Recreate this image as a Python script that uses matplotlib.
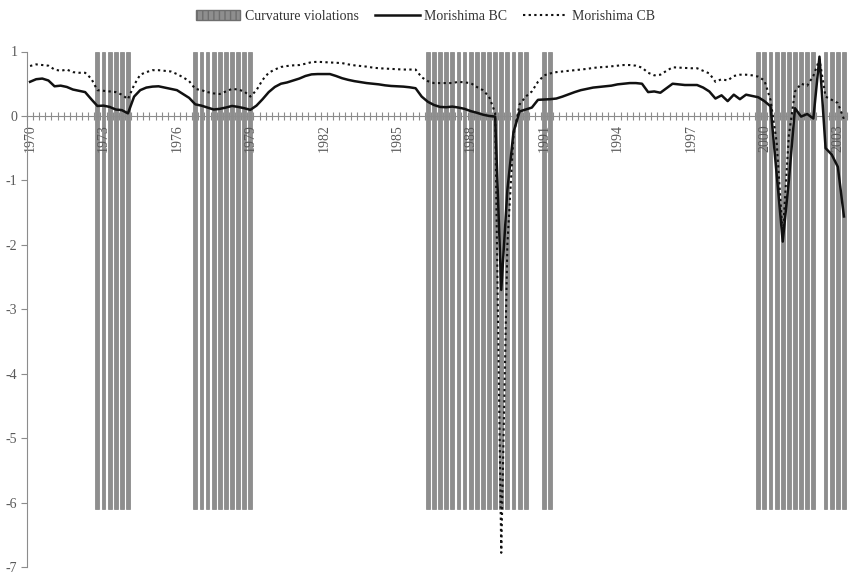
import numpy as np
import matplotlib
matplotlib.use("Agg")
import matplotlib.pyplot as plt
from matplotlib.patches import Patch
from matplotlib.lines import Line2D

plt.rcParams['font.family'] = ['Liberation Serif', 'DejaVu Serif']
plt.rcParams['axes.unicode_minus'] = False

# quarterly values, 1970Q1 .. 2003Q2
morishima_bc = [
    0.53, 0.57, 0.58, 0.55, 0.46, 0.47, 0.45, 0.41, 0.39, 0.37,
    0.26, 0.155, 0.16, 0.14, 0.10, 0.09, 0.04, 0.30, 0.40, 0.44,
    0.455, 0.46, 0.44, 0.42, 0.40, 0.34, 0.28, 0.18, 0.16, 0.13,
    0.10, 0.11, 0.13, 0.155, 0.14, 0.12, 0.095, 0.16, 0.26, 0.37,
    0.45, 0.50, 0.52, 0.55, 0.58, 0.62, 0.645, 0.65, 0.65, 0.65,
    0.62, 0.585, 0.56, 0.54, 0.525, 0.51, 0.50, 0.49, 0.475, 0.465,
    0.46, 0.455, 0.445, 0.43, 0.30, 0.22, 0.17, 0.14, 0.135, 0.145,
    0.13, 0.11, 0.075, 0.05, 0.02, 0.0, -0.01, -2.7, -1.15, -0.25,
    0.07, 0.10, 0.13, 0.25, 0.255, 0.26, 0.27, 0.30, 0.335, 0.37,
    0.40, 0.42, 0.44, 0.45, 0.46, 0.47, 0.49, 0.50, 0.51, 0.51,
    0.50, 0.37, 0.38, 0.36, 0.43, 0.50, 0.49, 0.48, 0.48, 0.48,
    0.44, 0.38, 0.27, 0.32, 0.23, 0.33, 0.26, 0.33, 0.31, 0.29,
    0.23, 0.15, -0.9, -1.95, -1.0, 0.12, -0.01, 0.03, -0.04, 0.92,
    -0.5, -0.6, -0.79, -1.56,
]

morishima_cb = [
    0.775, 0.80, 0.79, 0.78, 0.72, 0.70, 0.72, 0.68, 0.67, 0.67,
    0.58, 0.40, 0.39, 0.38, 0.37, 0.33, 0.26, 0.48, 0.64, 0.68,
    0.71, 0.71, 0.70, 0.69, 0.65, 0.60, 0.54, 0.42, 0.40, 0.37,
    0.35, 0.34, 0.38, 0.42, 0.41, 0.38, 0.30, 0.40, 0.56, 0.67,
    0.72, 0.76, 0.775, 0.785, 0.79, 0.81, 0.835, 0.84, 0.835, 0.83,
    0.825, 0.82, 0.80, 0.785, 0.775, 0.765, 0.75, 0.74, 0.735, 0.73,
    0.725, 0.72, 0.72, 0.72, 0.60, 0.54, 0.51, 0.51, 0.51, 0.51,
    0.53, 0.52, 0.51, 0.45, 0.40, 0.30, 0.05, -6.78, -2.0, -0.3,
    0.18, 0.30, 0.38, 0.53, 0.63, 0.66, 0.68, 0.69, 0.70, 0.71,
    0.72, 0.73, 0.745, 0.755, 0.76, 0.77, 0.78, 0.79, 0.79, 0.78,
    0.75, 0.67, 0.63, 0.64, 0.70, 0.755, 0.75, 0.745, 0.74, 0.74,
    0.70, 0.66, 0.53, 0.57, 0.55, 0.62, 0.64, 0.64, 0.63, 0.61,
    0.55, 0.25, -0.4, -1.85, -0.3, 0.38, 0.50, 0.47, 0.62, 0.88,
    0.30, 0.25, 0.20, -0.05,
]

# quarters (index from 1970Q1) with curvature violations: (first, last)
violation_spans = [(11, 16), (27, 36), (65, 81), (84, 85), (119, 128), (130, 133)]
violation_top = 1.0
violation_bottom = -6.1

year_labels = ['1970', '1973', '1976', '1979', '1982', '1985',
               '1988', '1991', '1994', '1997', '2000', '2003']

grey = '#595959'
n = len(morishima_bc)
q = np.arange(n)

fig = plt.figure(figsize=(8.51, 5.78), dpi=100)
ax = fig.add_axes([27 / 851, 11 / 578, 820 / 851, 515.5 / 578])

viol = [i for a, b in violation_spans for i in range(a, b + 1)]
ax.bar(viol, violation_top - violation_bottom, bottom=violation_bottom,
       width=0.62, color='#8e8e8e', edgecolor='#6e6e6e', linewidth=0.4, zorder=1)

ax.plot(q, morishima_cb, color='#111111', lw=1.5, linestyle=(0, (1.1, 1.6)), zorder=3)
ax.plot(q, morishima_bc, color='#111111', lw=1.8, zorder=4)

ax.set_xlim(-0.5, n - 0.5)
ax.set_ylim(-7, 1)

ax.spines['top'].set_visible(False)
ax.spines['right'].set_visible(False)
ax.spines['bottom'].set_position(('data', 0))
ax.spines['bottom'].set_color('#8c8c8c')
ax.spines['left'].set_color('#8c8c8c')
ax.spines['bottom'].set_zorder(2)

ax.set_yticks(range(-7, 2))
ax.tick_params(axis='y', colors='#8c8c8c', length=4, labelsize=10,
               labelcolor=grey, pad=3)

ax.set_xticks(q[::12])
ax.set_xticklabels(year_labels, rotation=90)
ax.set_xticks(np.arange(-0.5, n, 1), minor=True)
ax.tick_params(axis='x', which='major', length=0, labelsize=10,
               labelcolor=grey, pad=6)
ax.tick_params(axis='x', which='minor', direction='inout', length=6,
               color='#8c8c8c', width=0.8)
for lab in ax.get_xticklabels():
    lab.set_va('top')

handles = [Patch(facecolor='#8e8e8e', edgecolor='#6e6e6e', hatch='|||'),
           Line2D([], [], color='#111111', lw=1.8),
           Line2D([], [], color='#111111', lw=1.5, linestyle=(0, (1.1, 1.6)))]
fig.legend(handles, ['Curvature violations', 'Morishima BC', 'Morishima CB'],
           loc='center', bbox_to_anchor=(0.5, 0.972), ncol=3, frameon=False,
           fontsize=10, handlelength=3.2, columnspacing=1.2, handletextpad=0.3,
           labelcolor='#333333')

fig.savefig('out.png', dpi=100)
